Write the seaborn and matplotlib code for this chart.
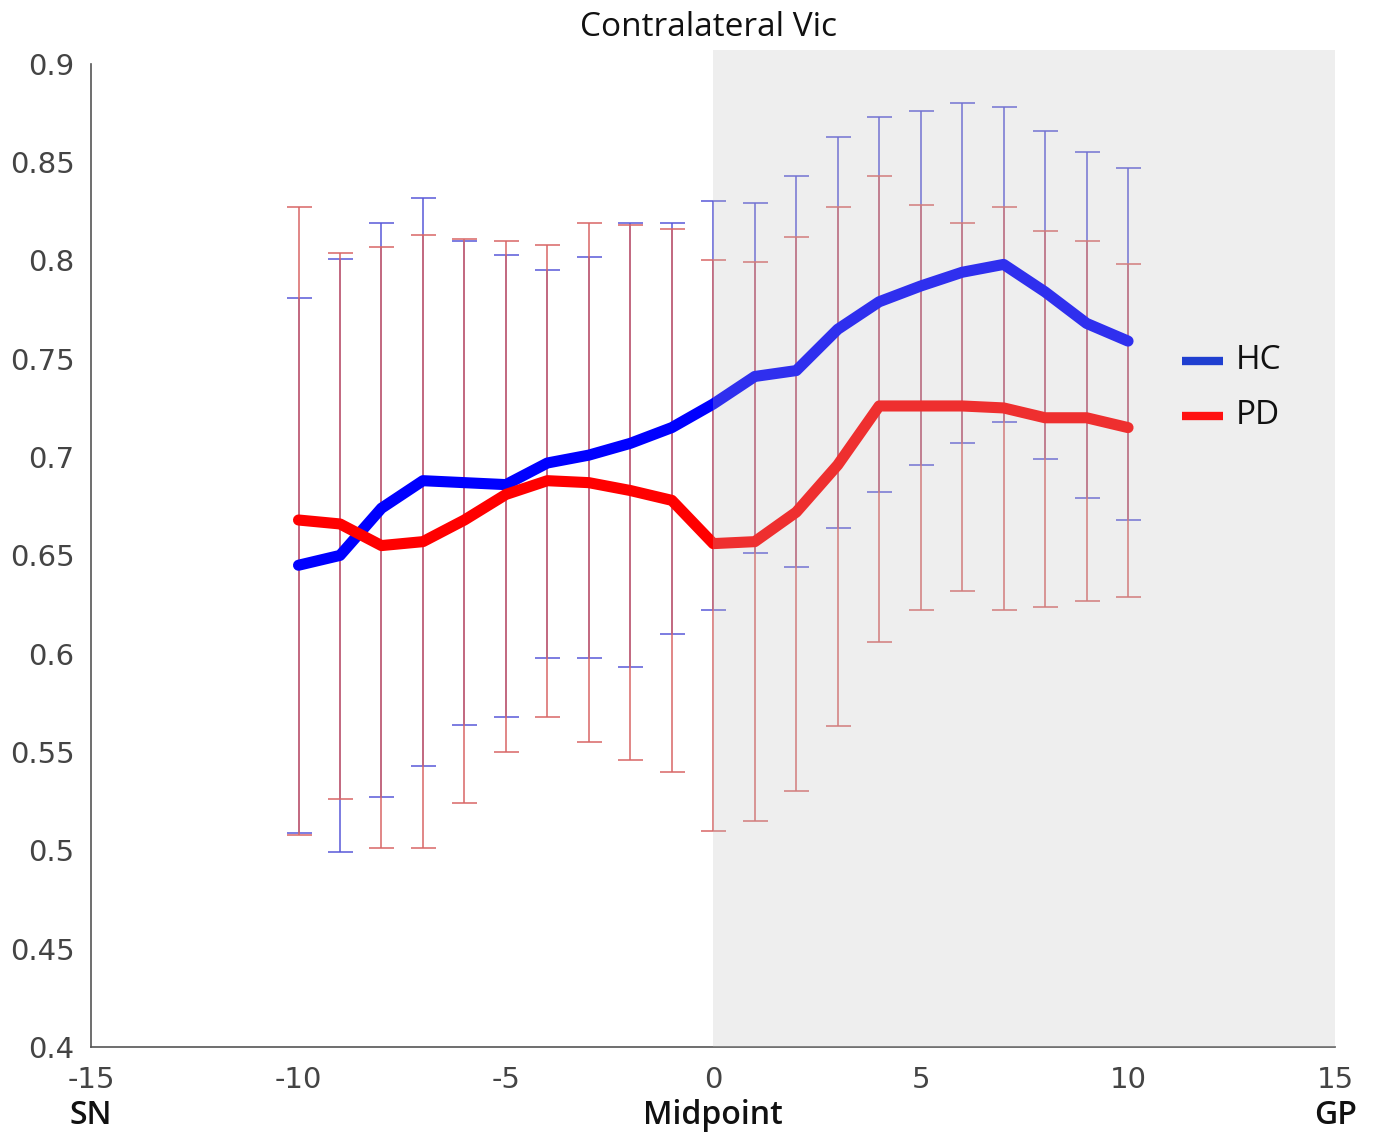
import numpy as np
import pandas as pd
import seaborn as sns
import matplotlib.pyplot as plt

# positions along the SN -> GP path
pos = list(range(-10, 11))

hc_mean = [0.645, 0.650, 0.674, 0.688, 0.687, 0.686, 0.697, 0.701, 0.707, 0.715, 0.727,
           0.741, 0.744, 0.765, 0.779, 0.787, 0.794, 0.798, 0.784, 0.768, 0.759]
hc_hi = [0.781, 0.801, 0.819, 0.832, 0.810, 0.803, 0.795, 0.802, 0.819, 0.819, 0.830,
         0.829, 0.843, 0.863, 0.873, 0.876, 0.880, 0.878, 0.866, 0.855, 0.847]
hc_lo = [0.509, 0.499, 0.527, 0.543, 0.564, 0.568, 0.598, 0.598, 0.593, 0.610, 0.622,
         0.651, 0.644, 0.664, 0.682, 0.696, 0.707, 0.718, 0.699, 0.679, 0.668]

pd_mean = [0.668, 0.666, 0.655, 0.657, 0.668, 0.681, 0.688, 0.687, 0.683, 0.678, 0.656,
           0.657, 0.672, 0.696, 0.726, 0.726, 0.726, 0.725, 0.720, 0.720, 0.715]
pd_hi = [0.827, 0.804, 0.807, 0.813, 0.811, 0.810, 0.808, 0.819, 0.818, 0.816, 0.800,
         0.799, 0.812, 0.827, 0.843, 0.828, 0.819, 0.827, 0.815, 0.810, 0.798]
pd_lo = [0.508, 0.526, 0.501, 0.501, 0.524, 0.550, 0.568, 0.555, 0.546, 0.540, 0.510,
         0.515, 0.530, 0.563, 0.606, 0.622, 0.632, 0.622, 0.624, 0.627, 0.629]

df = pd.DataFrame({
    "pos": pos * 2,
    "value": hc_mean + pd_mean,
    "group": ["HC"] * len(pos) + ["PD"] * len(pos),
})

sns.set_style("white")
plt.rcParams["font.family"] = ["DejaVu Sans"]

fig = plt.figure(figsize=(13.81, 11.40), dpi=100)
ax = fig.add_axes([0.066, 0.0816, 0.901, 0.8624])

# error bars (thin, capped)
hm, pm = np.array(hc_mean), np.array(pd_mean)
ax.errorbar(pos, hm, yerr=[hm - np.array(hc_lo), np.array(hc_hi) - hm], fmt="none",
            ecolor=(0.35, 0.35, 0.85), elinewidth=1.1, capsize=9, capthick=1.1, zorder=2)
ax.errorbar(pos, pm, yerr=[pm - np.array(pd_lo), np.array(pd_hi) - pm], fmt="none",
            ecolor=(0.85, 0.4, 0.4), elinewidth=1.1, capsize=9, capthick=1.1, zorder=3)

sns.lineplot(data=df, x="pos", y="value", hue="group", palette={"HC": "#0000ff", "PD": "#ff0000"},
             linewidth=8, ax=ax, zorder=4, legend=False)

# shaded GP side
ax.axvspan(0, 15, ymin=0, ymax=1.014, color="#bfbfbf", alpha=0.25, lw=0, zorder=5, clip_on=False)

ax.set_xlim(-15, 15)
ax.set_ylim(0.4, 0.9)
ax.set_xticks([-15, -10, -5, 0, 5, 10, 15])
ax.set_xticklabels(["-15", "-10", "-5", "0", "5", "10", "15"])
ax.set_yticks([0.4, 0.45, 0.5, 0.55, 0.6, 0.65, 0.7, 0.75, 0.8, 0.85, 0.9])
ax.set_yticklabels(["0.4", "0.45", "0.5", "0.55", "0.6", "0.65", "0.7", "0.75", "0.8", "0.85", "0.9"])
ax.tick_params(direction="in", length=12, width=1, colors="#444444", labelsize=21,
               labelcolor="#444444")
ax.tick_params(axis="y", pad=12)
ax.tick_params(axis="x", pad=14)
ax.set_xlabel("")
ax.set_ylabel("")
for s in ["top", "right"]:
    ax.spines[s].set_visible(False)
for s in ["left", "bottom"]:
    ax.spines[s].set_color("#555555")
    ax.spines[s].set_linewidth(1.2)

# legend
for lab, col, yy in [("HC", "#1f3fd0", 0.749), ("PD", "#ff1010", 0.721)]:
    ax.plot([11.3, 12.3], [yy, yy], color=col, lw=6, solid_capstyle="butt", zorder=6, clip_on=False)
    ax.text(12.6, yy, lab, fontsize=24, va="center", ha="left", family=["Open Sans", "DejaVu Sans"],
            color="#111111", zorder=6)

fig.text(0.513, 0.976, "Contralateral Vic", ha="center", va="center", fontsize=24,
         family=["Open Sans", "DejaVu Sans"], color="#111111")
for xx, lab in [(-15, "SN"), (0, "Midpoint"), (15, "GP")]:
    ax.text(xx, -0.07, lab, transform=ax.get_xaxis_transform(), ha="center", va="center",
            fontsize=23, family=["Open Sans", "DejaVu Sans"], fontweight="semibold", color="#111111")

fig.savefig("out.png", dpi=100)
